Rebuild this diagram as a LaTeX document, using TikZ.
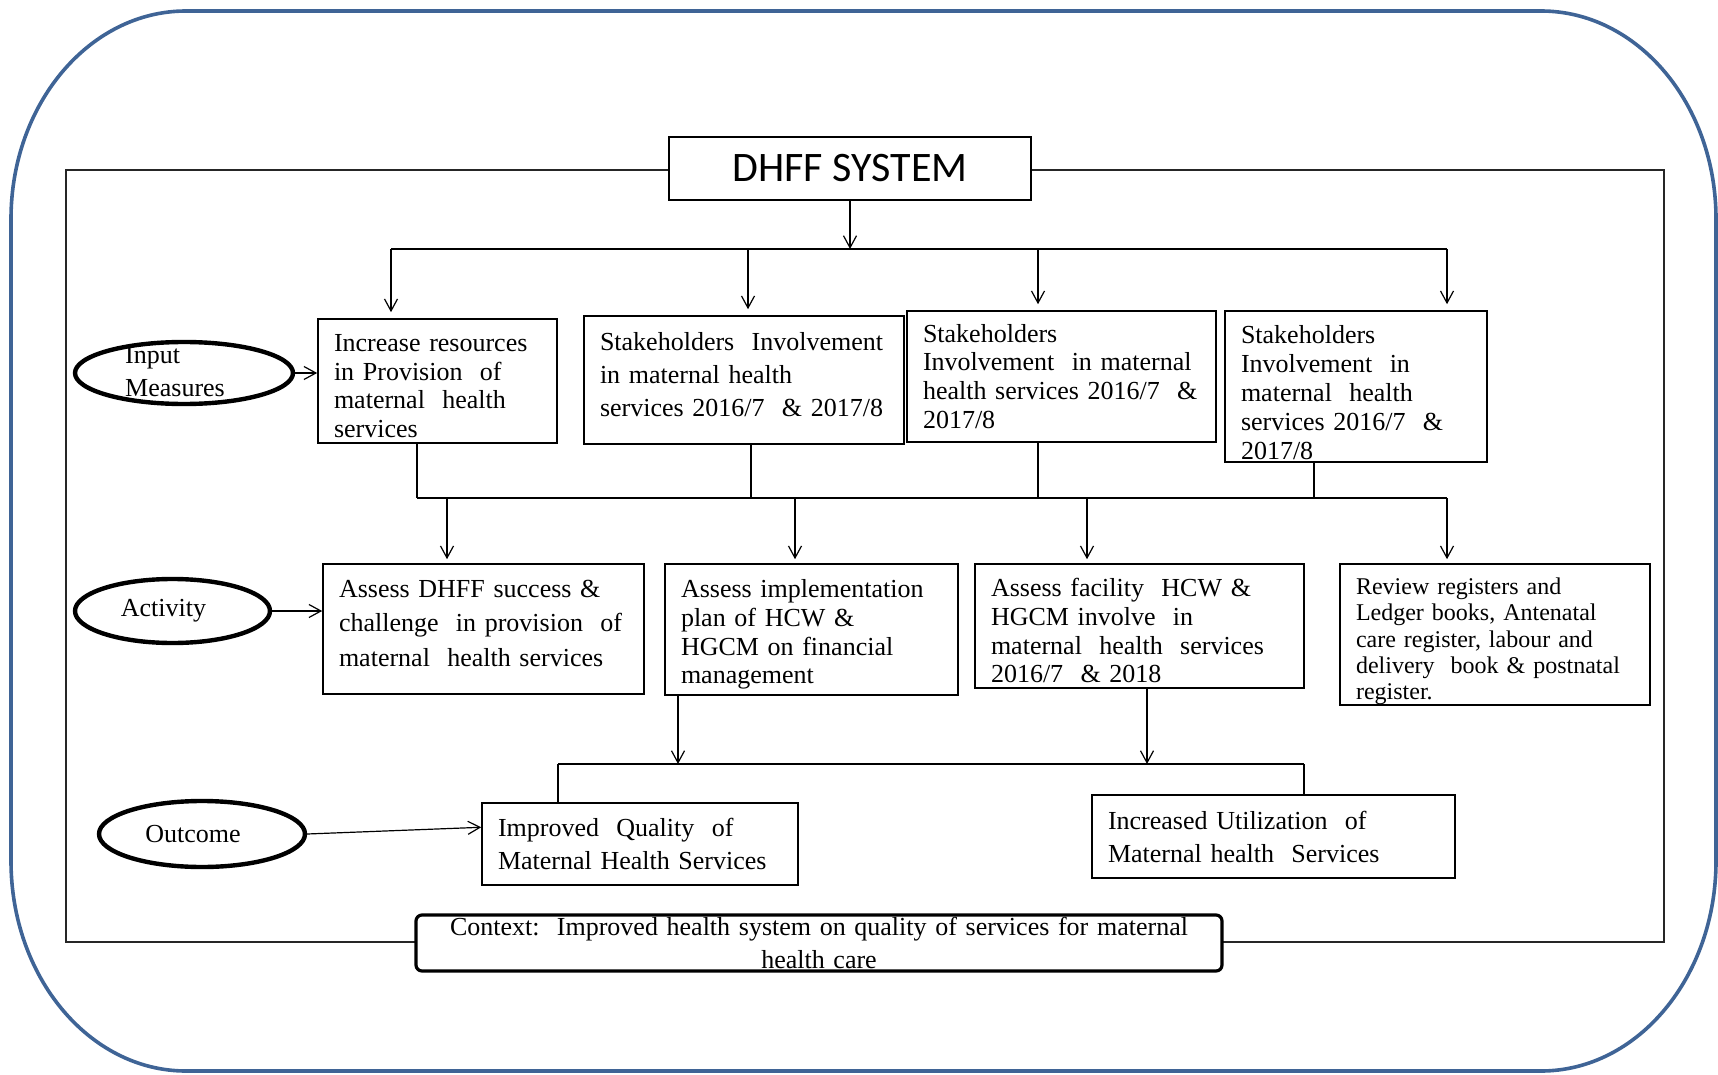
\documentclass[tikz,border=0pt]{standalone}
\usepackage{fontspec}
\setmainfont{Liberation Serif}
\newfontfamily\calibri{Carlito}
\usetikzlibrary{shapes.geometric,arrows.meta,calc}
\definecolor{frameblue}{RGB}{63,100,150}
\begin{document}
\begin{tikzpicture}[x=0.5pt,y=-0.5pt,
    stagebox/.style={draw, line width=0.8pt, fill=white, align=left, inner xsep=8pt, inner ysep=1pt,
        font=\fontsize{13}{14.4}\selectfont},
    widespaced/.style={font=\fontsize{13}{16.5}\selectfont},
    phaseoval/.style={ellipse, draw, line width=2.2pt, inner sep=0pt, font=\fontsize{13}{16.5}\selectfont},
    wire/.style={line width=0.6pt},
    wirearrow/.style={wire, -{Straight Barb[length=6pt,width=6.5pt]}}]
    \useasboundingbox (0,0) rectangle (1718,1075);

    % Draw outer frame
    \draw[frameblue, line width=1.8pt] (11,219)
        arc[start angle=180, end angle=270, x radius=175, y radius=208] -- (1541,11)
        arc[start angle=270, end angle=360, x radius=175, y radius=208] -- (1716,861)
        arc[start angle=0, end angle=90, x radius=175, y radius=210] -- (186,1071)
        arc[start angle=90, end angle=180, x radius=175, y radius=210] -- cycle;

    % Draw inner frame
    \draw[line width=0.7pt, black!85] (66,170) rectangle (1664,942);

    % System title
    \node[draw, line width=0.8pt, fill=white, minimum width=181pt, minimum height=31.5pt,
        font=\calibri\fontsize{21}{25}\selectfont] (dhff) at (850,168.5) {DHFF SYSTEM};

    % Row labels
    \node[phaseoval, minimum width=109pt, minimum height=31pt] (input) at (184,373) {};
    \node[align=left, font=\fontsize{13}{16.5}\selectfont] (inputtext) at (175,372) {Input\\Measures};
    \node[phaseoval, minimum width=97.5pt, minimum height=32pt] (activity) at (172.5,611) {Activity\hspace*{9pt}};
    \node[phaseoval, minimum width=103pt, minimum height=33pt] (outcome) at (202,834) {Outcome\hspace*{9pt}};

    % Input measures
    \node[stagebox, text depth=38.3pt, text width=103.5pt, minimum height=62pt] (in1) at (437.5,381)
        {Increase resources\\in Provision\ \ of\\maternal\ \ health\\services};
    \node[stagebox, widespaced, text depth=38.6pt, text width=144pt, minimum height=64pt] (in2) at (744,380)
        {Stakeholders\ \ Involvement\\in maternal health\\services 2016/7\ \ \& 2017/8};
    \node[stagebox, text width=138.5pt, minimum height=65.5pt] (in3) at (1061.5,376.5)
        {Stakeholders\\Involvement\ \ in maternal\\health services 2016/7\ \ \&\\2017/8};
    \node[stagebox, text depth=51.7pt, text width=115pt, minimum height=75.5pt] (in4) at (1356,386.5)
        {Stakeholders\\Involvement\ \ in\\maternal\ \ health\\services 2016/7\ \ \&\\2017/8};

    % Activities
    \node[stagebox, font=\fontsize{13}{17.25}\selectfont, text depth=40.6pt, text width=144.5pt, minimum height=65pt] (act1) at (483.5,629)
        {Assess DHFF success \&\\challenge\ \ in provision\ \ of\\maternal\ \ health services};
    \node[stagebox, text depth=41pt, text width=130.5pt, minimum height=65.5pt] (act2) at (811.5,629.5)
        {Assess implementation\\plan of HCW \&\\HGCM on financial\\management};
    \node[stagebox, text depth=38.6pt, text width=148.5pt, minimum height=62pt] (act3) at (1139.5,626)
        {Assess facility\ \ HCW \&\\HGCM involve\ \ in\\maternal\ \ health\ \ services\\2016/7\ \ \& 2018};
    \node[stagebox, font=\fontsize{12}{13.15}\selectfont, text depth=48.2pt, text width=139pt, minimum height=70.5pt] (act4) at (1495,634.5)
        {Review registers and\\Ledger books, Antenatal\\care register, labour and\\delivery\ \ book \& postnatal\\register.};

    % Outcomes
    \node[stagebox, widespaced, text width=142pt, minimum height=41pt] (out1) at (640,844)
        {Improved\ \ Quality\ \ of\\Maternal Health Services};
    \node[stagebox, widespaced, text width=165.5pt, minimum height=41.5pt] (out2) at (1273.5,836.5)
        {Increased Utilization\ \ of\\Maternal health\ \ Services};

    % Context
    \node[draw, line width=1.6pt, rounded corners=3pt, fill=white, minimum width=403pt, minimum height=28pt,
        inner sep=0pt, text width=395pt, align=center, font=\fontsize{13}{16.5}\selectfont] (context) at (819,943)
        {Context:\ \ Improved health system on quality of services for maternal\\health care};

    % Top bus
    \coordinate (top1) at (391,249);
    \coordinate (top2) at (748,249);
    \coordinate (top3) at (1038,249);
    \coordinate (top4) at (1447,249);
    \draw[wirearrow] (dhff.south) -- (dhff.south |- top1);
    \draw[wire] (top1) -- (top4);
    \draw[wirearrow, shorten >=3pt] (top1) -- (top1 |- in1.north);
    \draw[wirearrow, shorten >=3pt] (top2) -- (top2 |- in2.north);
    \draw[wirearrow, shorten >=3pt] (top3) -- (top3 |- in3.north);
    \draw[wirearrow, shorten >=3pt] (top4) -- (top4 |- in4.north);

    % Middle bus
    \coordinate (up1) at (417,498);
    \coordinate (up2) at (751,498);
    \coordinate (up3) at (1038,498);
    \coordinate (up4) at (1314,498);
    \coordinate (down1) at (447,498);
    \coordinate (down2) at (795,498);
    \coordinate (down3) at (1087,498);
    \coordinate (down4) at (1447,498);
    \draw[wire] (in1.south -| up1) -- (up1);
    \draw[wire] (in2.south -| up2) -- (up2);
    \draw[wire] (in3.south -| up3) -- (up3);
    \draw[wire] (in4.south -| up4) -- (up4);
    \draw[wire] (up1) -- (down4);
    \draw[wirearrow, shorten >=2pt] (down1) -- (down1 |- act1.north);
    \draw[wirearrow, shorten >=2pt] (down2) -- (down2 |- act2.north);
    \draw[wirearrow, shorten >=2pt] (down3) -- (down3 |- act3.north);
    \draw[wirearrow, shorten >=2pt] (down4) -- (down4 |- act4.north);

    % Outcome bus
    \coordinate (low1) at (678,764);
    \coordinate (low2) at (1147,764);
    \coordinate (lowL) at (558,764);
    \coordinate (lowR) at (1304,764);
    \draw[wirearrow] (act2.south -| low1) -- (low1);
    \draw[wirearrow] (act3.south -| low2) -- (low2);
    \draw[wire] (lowL) -- (lowR);
    \draw[wire] (lowL) -- (lowL |- out1.north);
    \draw[wire] (lowR) -- (lowR |- out2.north);

    % Row arrows
    \draw[wirearrow] (input.east) -- (input.east -| in1.west);
    \draw[wirearrow] (activity.east) -- (activity.east -| act1.west);
    \draw[wirearrow] (outcome.east) -- ($(out1.north west)!0.3!(out1.south west)$);
\end{tikzpicture}
\end{document}
